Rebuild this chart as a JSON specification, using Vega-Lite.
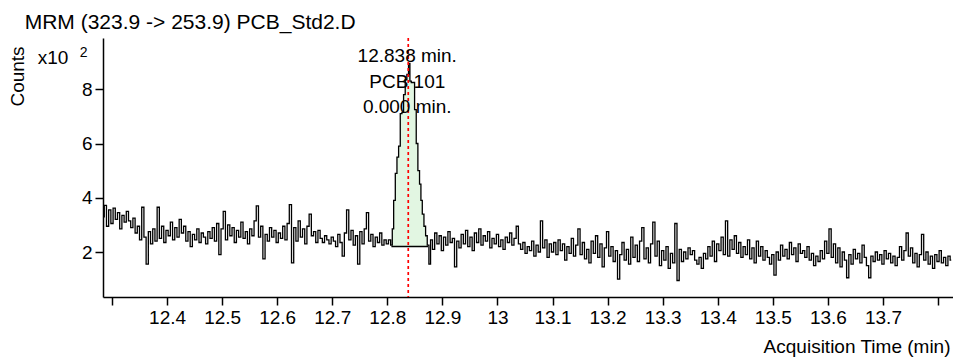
{
  "$schema": "https://vega.github.io/schema/vega-lite/v6.json",
  "width": 850,
  "height": 259,
  "autosize": {"type": "none"},
  "padding": {"left": 103, "top": 38, "right": 0, "bottom": 62},
  "background": "white",
  "config": {"view": {"stroke": null}, "font": "Liberation Sans"},
  "datasets": {
    "trace": [
    {"t":12.284,"c":3.30},{"t":12.288,"c":3.72},{"t":12.292,"c":2.95},{"t":12.296,"c":3.55},{"t":12.300,"c":3.05},{"t":12.304,"c":3.62},{"t":12.308,"c":3.20},{"t":12.312,"c":3.45},{"t":12.316,"c":2.85},{"t":12.320,"c":3.35},{"t":12.324,"c":3.10},{"t":12.328,"c":3.50},{"t":12.332,"c":3.15},
    {"t":12.336,"c":2.90},{"t":12.340,"c":3.25},{"t":12.344,"c":2.70},{"t":12.348,"c":2.95},{"t":12.352,"c":2.45},{"t":12.356,"c":3.65},{"t":12.360,"c":2.55},{"t":12.364,"c":1.55},{"t":12.368,"c":2.75},{"t":12.372,"c":2.30},
    {"t":12.376,"c":2.85},{"t":12.380,"c":2.40},{"t":12.384,"c":3.65},{"t":12.388,"c":2.50},{"t":12.392,"c":2.95},{"t":12.396,"c":2.35},{"t":12.400,"c":2.80},{"t":12.404,"c":2.60},{"t":12.408,"c":3.10},{"t":12.412,"c":2.45},
    {"t":12.416,"c":2.90},{"t":12.420,"c":2.55},{"t":12.424,"c":3.20},{"t":12.428,"c":2.70},{"t":12.432,"c":2.95},{"t":12.436,"c":2.40},{"t":12.440,"c":2.75},{"t":12.444,"c":2.20},{"t":12.448,"c":2.65},{"t":12.452,"c":2.45},
    {"t":12.456,"c":2.85},{"t":12.460,"c":2.35},{"t":12.464,"c":2.70},{"t":12.468,"c":2.55},{"t":12.472,"c":2.30},{"t":12.476,"c":2.75},{"t":12.480,"c":2.50},{"t":12.484,"c":2.90},{"t":12.488,"c":2.40},{"t":12.492,"c":3.05},
    {"t":12.496,"c":1.90},{"t":12.500,"c":2.85},{"t":12.504,"c":3.50},{"t":12.508,"c":2.45},{"t":12.512,"c":3.00},{"t":12.516,"c":2.60},{"t":12.520,"c":2.90},{"t":12.524,"c":2.35},{"t":12.528,"c":2.80},{"t":12.532,"c":2.55},
    {"t":12.536,"c":3.10},{"t":12.540,"c":2.50},{"t":12.544,"c":2.75},{"t":12.548,"c":2.30},{"t":12.552,"c":2.85},{"t":12.556,"c":2.60},{"t":12.560,"c":3.15},{"t":12.564,"c":3.70},{"t":12.568,"c":2.55},{"t":12.572,"c":2.95},
    {"t":12.576,"c":1.75},{"t":12.580,"c":2.65},{"t":12.584,"c":2.40},{"t":12.588,"c":2.90},{"t":12.592,"c":2.55},{"t":12.596,"c":2.80},{"t":12.600,"c":2.35},{"t":12.604,"c":2.70},{"t":12.608,"c":2.50},{"t":12.612,"c":2.95},
    {"t":12.616,"c":2.45},{"t":12.620,"c":3.05},{"t":12.624,"c":3.75},{"t":12.628,"c":1.60},{"t":12.632,"c":2.90},{"t":12.636,"c":2.40},{"t":12.640,"c":3.15},{"t":12.644,"c":2.55},{"t":12.648,"c":2.85},{"t":12.652,"c":2.30},
    {"t":12.656,"c":2.95},{"t":12.660,"c":3.40},{"t":12.664,"c":2.60},{"t":12.668,"c":2.75},{"t":12.672,"c":2.35},{"t":12.676,"c":2.80},{"t":12.680,"c":2.50},{"t":12.684,"c":2.35},{"t":12.688,"c":2.60},{"t":12.692,"c":2.45},
    {"t":12.696,"c":2.30},{"t":12.700,"c":2.55},{"t":12.704,"c":2.40},{"t":12.708,"c":2.20},{"t":12.712,"c":2.65},{"t":12.716,"c":2.35},{"t":12.720,"c":1.85},{"t":12.724,"c":2.70},{"t":12.728,"c":3.55},{"t":12.732,"c":2.45},
    {"t":12.736,"c":2.80},{"t":12.740,"c":2.25},{"t":12.744,"c":2.60},{"t":12.748,"c":1.55},{"t":12.752,"c":2.75},{"t":12.756,"c":2.30},{"t":12.760,"c":2.85},{"t":12.764,"c":3.45},{"t":12.768,"c":2.40},{"t":12.772,"c":2.65},
    {"t":12.776,"c":2.20},{"t":12.780,"c":2.55},{"t":12.784,"c":2.35},{"t":12.788,"c":2.70},{"t":12.792,"c":2.25},{"t":12.796,"c":2.45},{"t":12.800,"c":2.30},{"t":12.804,"c":2.45},
    {"t":12.808,"c":2.25},{"t":12.810,"c":2.85},{"t":12.813,"c":3.90},{"t":12.816,"c":4.90},{"t":12.819,"c":5.50},{"t":12.822,"c":5.90},{"t":12.825,"c":7.10},{"t":12.828,"c":7.15},{"t":12.831,"c":7.80},{"t":12.834,"c":8.35},
    {"t":12.837,"c":8.55},{"t":12.840,"c":8.95},{"t":12.842,"c":8.30},{"t":12.845,"c":8.25},{"t":12.848,"c":8.25},{"t":12.851,"c":7.25},{"t":12.854,"c":6.00},{"t":12.857,"c":5.00},{"t":12.860,"c":4.50},{"t":12.862,"c":3.90},
    {"t":12.865,"c":3.40},{"t":12.868,"c":2.95},{"t":12.871,"c":2.60},{"t":12.874,"c":2.25},{"t":12.877,"c":1.55},
    {"t":12.880,"c":2.45},{"t":12.884,"c":2.10},{"t":12.888,"c":2.70},{"t":12.892,"c":2.30},{"t":12.896,"c":2.60},{"t":12.900,"c":2.05},{"t":12.904,"c":2.55},{"t":12.908,"c":2.25},{"t":12.912,"c":2.75},{"t":12.916,"c":2.35},
    {"t":12.920,"c":2.50},{"t":12.924,"c":1.45},{"t":12.928,"c":2.40},{"t":12.932,"c":2.15},{"t":12.936,"c":2.65},{"t":12.940,"c":2.30},{"t":12.944,"c":2.80},{"t":12.948,"c":2.20},{"t":12.952,"c":2.55},{"t":12.956,"c":2.05},
    {"t":12.960,"c":2.70},{"t":12.964,"c":2.35},{"t":12.968,"c":2.85},{"t":12.972,"c":2.25},{"t":12.976,"c":2.60},{"t":12.980,"c":2.40},{"t":12.984,"c":2.75},{"t":12.988,"c":2.15},{"t":12.992,"c":2.50},{"t":12.996,"c":2.30},
    {"t":13.000,"c":2.65},{"t":13.004,"c":2.20},{"t":13.008,"c":2.45},{"t":13.012,"c":2.10},{"t":13.016,"c":2.55},{"t":13.020,"c":2.35},{"t":13.024,"c":2.70},{"t":13.028,"c":2.25},{"t":13.032,"c":2.50},{"t":13.036,"c":2.95},
    {"t":13.040,"c":2.30},{"t":13.044,"c":2.10},{"t":13.048,"c":2.35},{"t":13.052,"c":1.95},{"t":13.056,"c":2.20},{"t":13.060,"c":2.05},{"t":13.064,"c":2.40},{"t":13.068,"c":1.85},{"t":13.072,"c":2.25},{"t":13.076,"c":2.00},
    {"t":13.080,"c":3.15},{"t":13.084,"c":2.15},{"t":13.088,"c":2.45},{"t":13.092,"c":1.80},{"t":13.096,"c":2.30},{"t":13.100,"c":2.00},
    {"t":13.104,"c":2.35},{"t":13.108,"c":1.90},{"t":13.112,"c":2.45},{"t":13.116,"c":2.05},{"t":13.120,"c":2.30},{"t":13.124,"c":1.70},{"t":13.128,"c":2.20},{"t":13.132,"c":1.95},{"t":13.136,"c":2.50},{"t":13.140,"c":1.85},
    {"t":13.144,"c":2.25},{"t":13.148,"c":2.85},{"t":13.152,"c":1.90},{"t":13.156,"c":2.35},{"t":13.160,"c":1.75},{"t":13.164,"c":2.10},{"t":13.168,"c":1.60},{"t":13.172,"c":2.40},{"t":13.176,"c":1.95},{"t":13.180,"c":2.60},
    {"t":13.184,"c":1.80},{"t":13.188,"c":2.30},{"t":13.192,"c":1.45},{"t":13.196,"c":2.15},{"t":13.200,"c":2.75},{"t":13.204,"c":1.85},{"t":13.208,"c":2.20},{"t":13.212,"c":1.65},{"t":13.216,"c":2.05},{"t":13.220,"c":1.00},
    {"t":13.224,"c":1.90},{"t":13.228,"c":2.35},{"t":13.232,"c":1.70},{"t":13.236,"c":2.10},{"t":13.240,"c":1.55},{"t":13.244,"c":2.55},{"t":13.248,"c":1.80},{"t":13.252,"c":2.25},{"t":13.256,"c":1.65},{"t":13.260,"c":2.40},
    {"t":13.264,"c":2.90},{"t":13.268,"c":1.75},{"t":13.272,"c":2.15},{"t":13.276,"c":1.60},{"t":13.280,"c":2.30},{"t":13.284,"c":3.10},{"t":13.288,"c":1.85},{"t":13.292,"c":2.40},{"t":13.296,"c":1.50},{"t":13.300,"c":2.05},
    {"t":13.304,"c":1.70},{"t":13.308,"c":2.20},{"t":13.312,"c":1.40},{"t":13.316,"c":1.95},{"t":13.320,"c":1.60},{"t":13.324,"c":3.05},{"t":13.328,"c":0.95},{"t":13.332,"c":2.10},{"t":13.336,"c":1.65},{"t":13.340,"c":2.00},
    {"t":13.344,"c":1.75},{"t":13.348,"c":2.15},{"t":13.352,"c":1.90},{"t":13.356,"c":2.05},{"t":13.360,"c":1.70},{"t":13.364,"c":1.55},{"t":13.368,"c":1.80},{"t":13.372,"c":1.40},{"t":13.376,"c":1.95},{"t":13.380,"c":1.75},
    {"t":13.384,"c":2.20},{"t":13.388,"c":1.85},{"t":13.392,"c":2.40},{"t":13.396,"c":1.65},{"t":13.400,"c":2.30},{"t":13.404,"c":2.05},{"t":13.408,"c":2.55},{"t":13.412,"c":1.90},{"t":13.416,"c":3.15},{"t":13.420,"c":1.85},
    {"t":13.424,"c":2.45},{"t":13.428,"c":2.10},{"t":13.432,"c":2.60},{"t":13.436,"c":1.95},{"t":13.440,"c":2.35},{"t":13.444,"c":1.80},{"t":13.448,"c":2.20},{"t":13.452,"c":1.90},{"t":13.456,"c":2.45},{"t":13.460,"c":1.75},
    {"t":13.464,"c":2.15},{"t":13.468,"c":1.60},{"t":13.472,"c":2.40},{"t":13.476,"c":1.85},{"t":13.480,"c":2.20},{"t":13.484,"c":1.70},{"t":13.488,"c":2.05},{"t":13.492,"c":1.80},{"t":13.496,"c":1.55},{"t":13.500,"c":1.90},
    {"t":13.504,"c":1.15},{"t":13.508,"c":2.00},{"t":13.512,"c":1.70},{"t":13.516,"c":2.25},{"t":13.520,"c":1.85},{"t":13.524,"c":2.10},{"t":13.528,"c":1.75},{"t":13.532,"c":2.35},{"t":13.536,"c":1.90},{"t":13.540,"c":2.15},
    {"t":13.544,"c":1.65},{"t":13.548,"c":2.30},{"t":13.552,"c":1.95},{"t":13.556,"c":2.05},{"t":13.560,"c":1.80},{"t":13.564,"c":2.20},{"t":13.568,"c":1.70},{"t":13.572,"c":1.95},{"t":13.576,"c":1.50},{"t":13.580,"c":1.85},
    {"t":13.584,"c":1.65},{"t":13.588,"c":2.05},{"t":13.592,"c":1.75},{"t":13.596,"c":2.40},{"t":13.600,"c":1.95},{"t":13.604,"c":2.85},{"t":13.608,"c":1.80},{"t":13.612,"c":2.30},{"t":13.616,"c":1.60},{"t":13.620,"c":2.15},
    {"t":13.624,"c":1.45},{"t":13.628,"c":2.00},{"t":13.632,"c":1.70},{"t":13.636,"c":1.05},{"t":13.640,"c":1.90},{"t":13.644,"c":1.55},{"t":13.648,"c":2.10},{"t":13.652,"c":1.75},{"t":13.656,"c":1.95},{"t":13.660,"c":1.60},
    {"t":13.664,"c":2.25},{"t":13.668,"c":1.80},{"t":13.672,"c":1.50},{"t":13.676,"c":1.05},{"t":13.680,"c":1.85},{"t":13.684,"c":1.65},{"t":13.688,"c":2.00},{"t":13.692,"c":1.70},{"t":13.696,"c":1.90},{"t":13.700,"c":1.55},
    {"t":13.704,"c":2.05},{"t":13.708,"c":1.75},{"t":13.712,"c":1.95},{"t":13.716,"c":1.60},{"t":13.720,"c":1.85},{"t":13.724,"c":1.50},{"t":13.728,"c":1.80},{"t":13.732,"c":2.20},{"t":13.736,"c":1.70},{"t":13.740,"c":2.05},
    {"t":13.744,"c":2.70},{"t":13.748,"c":1.85},{"t":13.752,"c":2.15},{"t":13.756,"c":1.60},{"t":13.760,"c":1.95},{"t":13.764,"c":1.45},{"t":13.768,"c":1.90},{"t":13.772,"c":2.65},{"t":13.776,"c":1.70},{"t":13.780,"c":2.00},
    {"t":13.784,"c":1.55},{"t":13.788,"c":1.85},{"t":13.792,"c":1.40},{"t":13.796,"c":1.90},{"t":13.800,"c":1.65},{"t":13.804,"c":2.05},{"t":13.808,"c":1.60},{"t":13.812,"c":1.80},{"t":13.816,"c":1.50},{"t":13.820,"c":1.85},
    {"t":13.824,"c":1.70}
    ],
    "one": [{}]
  },
  "layer": [
    {
      "data": {"name": "trace"},
      "transform": [{"filter": "datum.t >= 12.807 && datum.t <= 12.875"}],
      "mark": {"type": "area", "color": "#e2f6e2", "interpolate": "step"},
      "encoding": {
        "x": {"field": "t", "type": "quantitative"},
        "y": {"field": "c", "type": "quantitative"},
        "y2": {"datum": 2.2}
      }
    },
    {
      "data": {"name": "one"},
      "mark": {"type": "rule", "color": "black", "strokeWidth": 1.5},
      "encoding": {
        "x": {"datum": 12.8074},
        "x2": {"datum": 12.8739},
        "y": {"datum": 2.2}
      }
    },
    {
      "data": {"name": "trace"},
      "mark": {"type": "line", "color": "black", "strokeWidth": 1.3, "interpolate": "step"},
      "encoding": {
        "x": {
          "field": "t", "type": "quantitative",
          "scale": {"domain": [12.2837, 13.8272], "nice": false, "zero": false},
          "axis": {
            "values": [12.3, 12.4, 12.5, 12.6, 12.7, 12.8, 12.9, 13, 13.1, 13.2, 13.3, 13.4, 13.5, 13.6, 13.7, 13.8],
            "format": "~g",
            "labelExpr": "datum.value < 12.35 || datum.value > 13.75 ? '' : datum.label",
            "labelOverlap": false, "labelFlush": false, "labelBound": false,
            "grid": false, "domainColor": "black", "domainWidth": 1.5, "tickColor": "black", "tickWidth": 1.5, "tickSize": 8,
            "labelFontSize": 19, "labelColor": "black", "labelPadding": 3, "labelFont": "Liberation Sans",
            "title": "Acquisition Time (min)", "titleX": 847, "titleY": 55, "titleAlign": "right", "titleBaseline": "alphabetic",
            "titleFontSize": 19, "titleFontWeight": "normal", "titleColor": "black", "titleFont": "Liberation Sans"
          }
        },
        "y": {
          "field": "c", "type": "quantitative",
          "scale": {"domain": [0.341, 9.89], "nice": false, "zero": false},
          "axis": {
            "values": [2, 4, 6, 8],
            "grid": false, "domainColor": "black", "domainWidth": 1.5, "tickColor": "black", "tickWidth": 1.5, "tickSize": 8,
            "labelFontSize": 19, "labelColor": "black", "labelPadding": 3, "labelFont": "Liberation Sans",
            "title": "Counts", "titleX": -80, "titleY": 38, "titleAngle": 270, "titleAlign": "center", "titleBaseline": "alphabetic",
            "titleFontSize": 19, "titleFontWeight": "normal", "titleColor": "black", "titleFont": "Liberation Sans"
          }
        }
      }
    },
    {
      "data": {"name": "one"},
      "mark": {"type": "rule", "color": "#ff0000", "strokeWidth": 1.7, "strokeDash": [3, 3]},
      "encoding": {"x": {"datum": 12.838}}
    },
    {
      "data": {"name": "one"},
      "mark": {"type": "text", "text": "12.838 min.", "fontSize": 19, "font": "Liberation Sans", "align": "center", "baseline": "middle", "dx": -1, "color": "black"},
      "encoding": {"x": {"datum": 12.838}, "y": {"datum": 9.23}}
    },
    {
      "data": {"name": "one"},
      "mark": {"type": "text", "text": "PCB 101", "fontSize": 19, "font": "Liberation Sans", "align": "center", "baseline": "middle", "dx": -1, "color": "black"},
      "encoding": {"x": {"datum": 12.838}, "y": {"datum": 8.27}}
    },
    {
      "data": {"name": "one"},
      "mark": {"type": "text", "text": "0.000 min.", "fontSize": 19, "font": "Liberation Sans", "align": "center", "baseline": "middle", "dx": -1, "color": "black"},
      "encoding": {"x": {"datum": 12.838}, "y": {"datum": 7.35}}
    },
    {
      "data": {"name": "one"},
      "mark": {"type": "text", "text": "x10", "fontSize": 19, "font": "Liberation Sans", "align": "left", "baseline": "middle", "color": "black"},
      "encoding": {"x": {"datum": 12.1651}, "y": {"datum": 9.15}}
    },
    {
      "data": {"name": "one"},
      "mark": {"type": "text", "text": "2", "fontSize": 14, "font": "Liberation Sans", "align": "left", "baseline": "middle", "color": "black"},
      "encoding": {"x": {"datum": 12.2414}, "y": {"datum": 9.34}}
    },
    {
      "data": {"name": "one"},
      "mark": {"type": "text", "text": "MRM (323.9 -> 253.9) PCB_Std2.D", "fontSize": 21, "font": "Liberation Sans", "align": "left", "baseline": "alphabetic", "color": "black"},
      "encoding": {"x": {"datum": 12.1415}, "y": {"datum": 10.22}}
    }
  ]
}
